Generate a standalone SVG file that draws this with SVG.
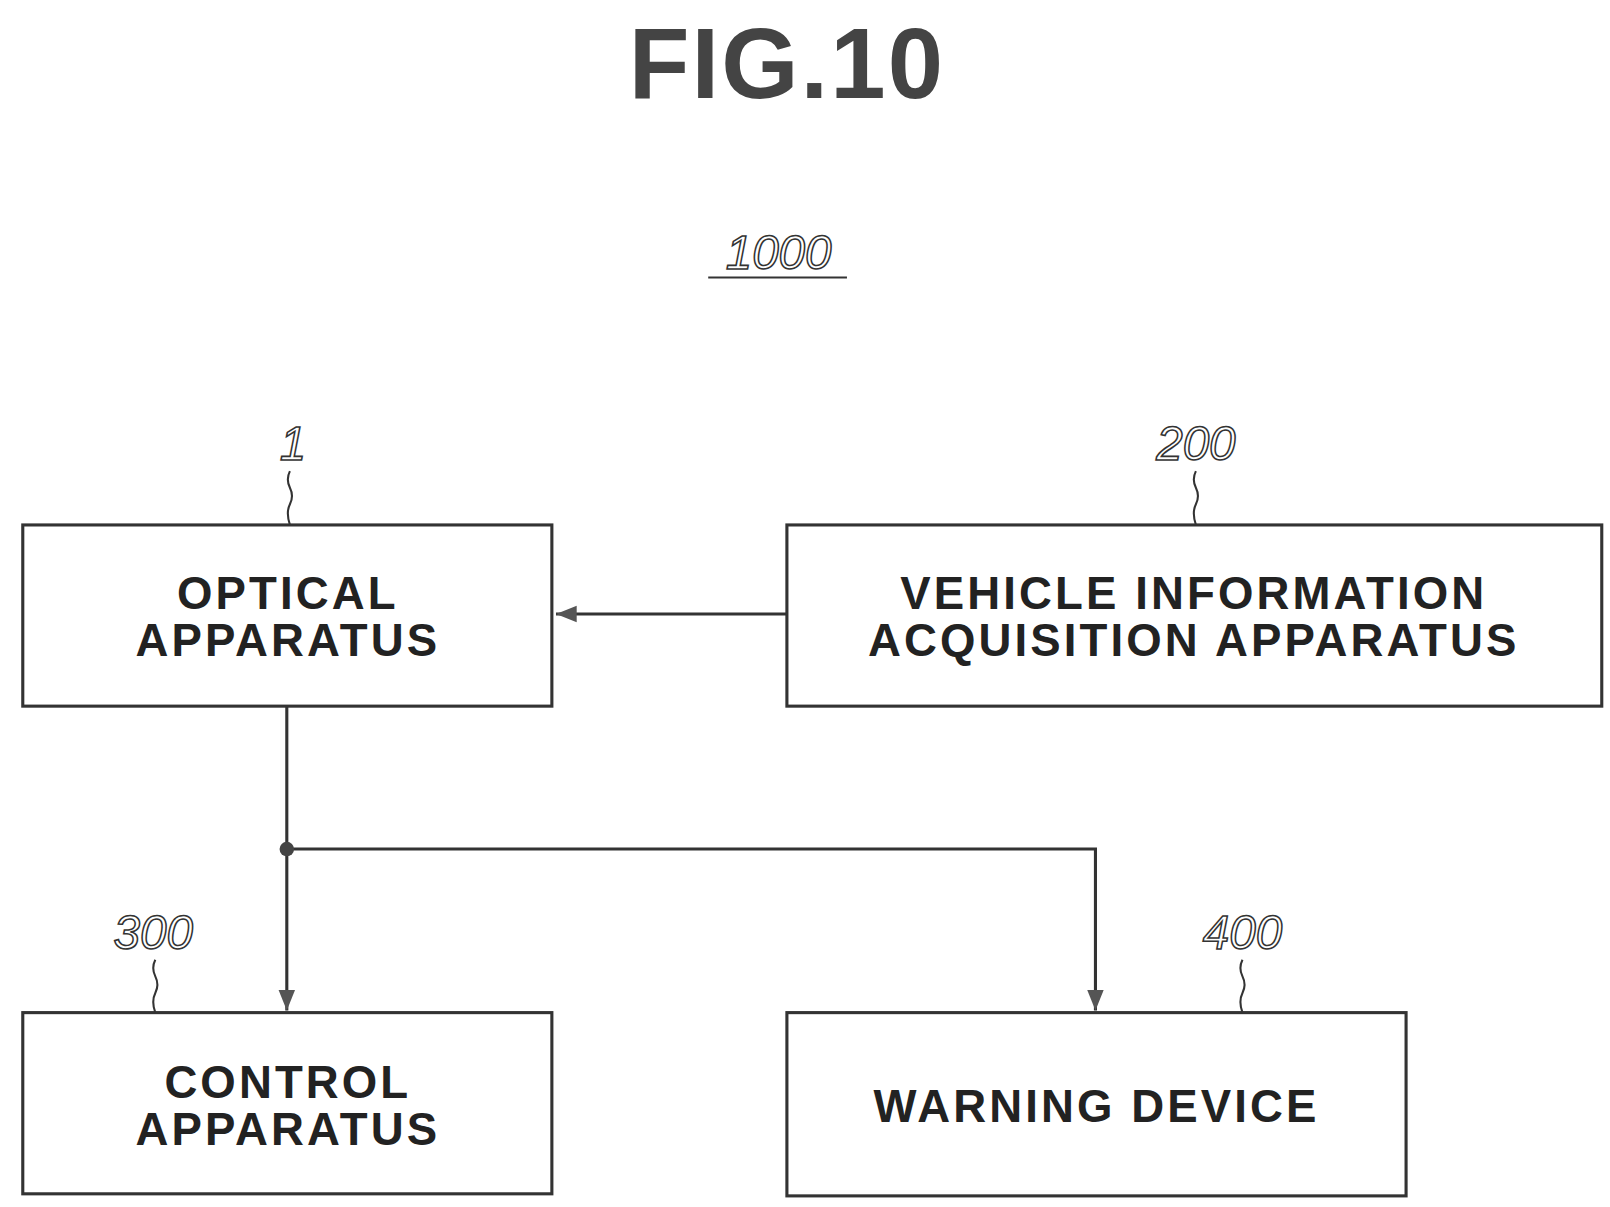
<svg xmlns="http://www.w3.org/2000/svg" width="1610" height="1207" viewBox="0 0 1610 1207">
<style>
.box{fill:#fff;stroke:#333;stroke-width:3}
.t{font-family:"Liberation Sans",Arial,sans-serif;font-weight:bold;font-size:44px;letter-spacing:3px;fill:#222;text-anchor:middle}
.ref{font-family:"Liberation Sans",Arial,sans-serif;font-style:italic;font-size:46px;fill:#fff;stroke:#333;stroke-width:1.5;text-anchor:middle}
.ln{fill:none;stroke:#333;stroke-width:3}
.ld{fill:none;stroke:#333;stroke-width:2}
</style>
<defs><marker id="b" markerWidth="20" markerHeight="24" refX="20" refY="8" orient="auto" markerUnits="userSpaceOnUse" viewBox="0 0 20 16"><path d="M0,0 L20,8 L0,16 Z" fill="#555"/></marker></defs>
<rect width="1610" height="1207" fill="#fff"/>
<g transform="scale(1.0354)">
<text x="760" y="95" font-family="Liberation Sans,Arial,sans-serif" font-weight="bold" font-size="96" letter-spacing="2" text-anchor="middle" fill="#444">FIG.10</text>
<text class="ref" x="752" y="260">1000</text>
<line x1="684" y1="268" x2="818" y2="268" class="ld"/>
<g id="connectors">
<line x1="760" y1="593" x2="537" y2="593" class="ln" marker-end="url(#b)"/>
<line x1="277" y1="682" x2="277" y2="976" class="ln" marker-end="url(#b)"/>
<polyline points="277,820 1058,820 1058,976" class="ln" marker-end="url(#b)"/>
<circle cx="277" cy="820" r="7" fill="#444"/>
</g>
<g id="n1"><rect class="box" x="22" y="507" width="511" height="175"/>
<text class="t" x="278" y="588">OPTICAL</text><text class="t" x="278" y="634">APPARATUS</text>
<text class="ref" x="283" y="444">1</text><path class="ld" d="M280,455 q-4,8 0,16 q4,8 0,16 q-4,8 0,20"/></g>
<g id="n200"><rect class="box" x="760" y="507" width="787" height="175"/>
<text class="t" x="1153" y="588">VEHICLE INFORMATION</text><text class="t" x="1153" y="634">ACQUISITION APPARATUS</text>
<text class="ref" x="1155" y="444">200</text><path class="ld" d="M1155,455 q-4,8 0,16 q4,8 0,16 q-4,8 0,20"/></g>
<g id="n300"><rect class="box" x="22" y="978" width="511" height="175"/>
<text class="t" x="278" y="1060">CONTROL</text><text class="t" x="278" y="1106">APPARATUS</text>
<text class="ref" x="148" y="917">300</text><path class="ld" d="M150,927 q-4,8 0,16 q4,8 0,16 q-4,8 0,19"/></g>
<g id="n400"><rect class="box" x="760" y="978" width="598" height="177"/>
<text class="t" x="1059" y="1084">WARNING DEVICE</text>
<text class="ref" x="1200" y="917">400</text><path class="ld" d="M1200,927 q-4,8 0,16 q4,8 0,16 q-4,8 0,19"/></g>
</g>
</svg>
